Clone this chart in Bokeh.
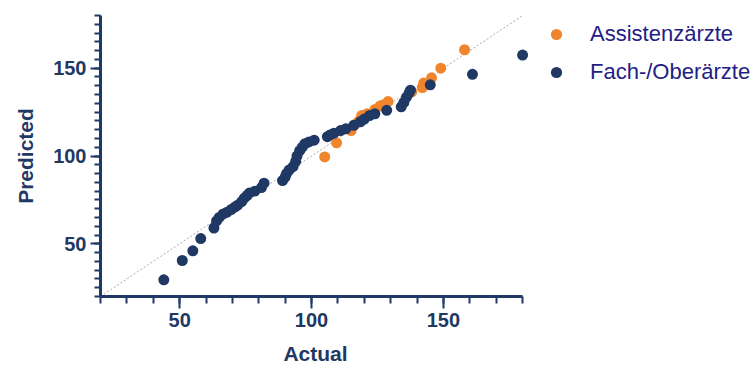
from bokeh.plotting import figure
from bokeh.layouts import row
from bokeh.models import FixedTicker, Legend, LegendItem, Range1d, ColumnDataSource
from bokeh.embed import file_html
from bokeh.resources import INLINE

# Data
navy_x = [44, 51, 55, 58, 63, 64, 65, 66.5, 68, 69.5, 71, 72, 73.5, 74.5, 75.5, 76.5, 78.5, 81, 82,
          89, 90, 90.5, 91.5, 93, 94, 94.5, 95.5, 96.5, 97.5, 99, 101, 106, 107, 108.5, 111, 113,
          116, 118.5, 120, 122, 124, 128.5, 134, 135, 136, 137, 137.5, 145, 161, 180]
navy_y = [29.5, 40.5, 46, 53, 59, 63, 65, 67, 68, 69.5, 71, 72, 74, 76, 77.5, 79, 80, 82, 84.5,
          86, 88, 90, 92, 94, 97, 100, 103, 105, 107, 108, 109, 111, 112, 113, 114.5, 115.5,
          117.5, 119.5, 121, 123, 124, 126, 128, 130.5, 133.5, 136, 137.5, 140.5, 146.5, 157.5]
orange_x = [105, 109.5, 115, 116.5, 118, 119, 121, 124, 126, 127, 129, 138, 142, 142.5, 145.5, 149, 158]
orange_y = [99.5, 107.5, 114.5, 118, 120, 123, 124, 126.5, 128.5, 129, 131, 136.5, 139, 141.5, 144.5, 150, 160.5]
diag = [20, 180]
major_ticks = [50, 100, 150]
x_minor = list(range(20, 181, 10))
y_minor = list(range(20, 181, 5))
labels = ["Assistenzärzte", "Fach-/Oberärzte"]

NAVY = "#1f3864"
ORANGE = "#f0852d"
FONT = "Liberation Sans"

p = figure(width=530, height=369, output_backend="svg", toolbar_location=None,
           x_range=Range1d(20, 183), y_range=Range1d(20, 180),
           min_border_left=100, min_border_right=0, min_border_top=15, min_border_bottom=73)
p.grid.visible = False
p.outline_line_color = None
p.background_fill_color = "white"
p.border_fill_color = "white"

p.line(diag, diag, line_color="#a8a8a8", line_width=1, line_dash="2 2")

src_o = ColumnDataSource(dict(x=orange_x, y=orange_y))
src_n = ColumnDataSource(dict(x=navy_x, y=navy_y))
p.scatter("x", "y", source=src_o, size=11, fill_color=ORANGE, line_color=ORANGE, line_width=0)
p.scatter("x", "y", source=src_n, size=11, fill_color=NAVY, line_color=NAVY, line_width=0)

p.xaxis.ticker = FixedTicker(ticks=major_ticks, minor_ticks=x_minor)
p.yaxis.ticker = FixedTicker(ticks=major_ticks, minor_ticks=y_minor)
p.xaxis.bounds = (20, 180)

for ax in (p.xaxis[0], p.yaxis[0]):
    ax.axis_line_color = NAVY
    ax.axis_line_width = 3
    ax.major_tick_line_color = NAVY
    ax.minor_tick_line_color = NAVY
    ax.major_tick_line_width = 2
    ax.minor_tick_line_width = 2
    ax.major_tick_in = 0
    ax.minor_tick_in = 0
    ax.major_label_text_font = FONT
    ax.major_label_text_font_style = "bold"
    ax.major_label_text_font_size = "20px"
    ax.major_label_text_color = NAVY
    ax.axis_label_text_font = FONT
    ax.axis_label_text_font_style = "bold"
    ax.axis_label_text_font_size = "21px"
    ax.axis_label_text_color = NAVY

p.xaxis.major_tick_out = 12
p.xaxis.minor_tick_out = 7
p.yaxis.major_tick_out = 10
p.yaxis.minor_tick_out = 6
p.xaxis.major_label_standoff = 4
p.yaxis.major_label_standoff = 4
p.xaxis.axis_label = "Actual"
p.yaxis.axis_label = "Predicted"
p.xaxis.axis_label_standoff = 12
p.yaxis.axis_label_standoff = 13

# legend panel
q = figure(width=224, height=369, output_backend="svg", toolbar_location=None,
           x_axis_type=None, y_axis_type=None,
           x_range=Range1d(0, 1), y_range=Range1d(0, 1),
           min_border_left=0, min_border_right=0, min_border_top=0, min_border_bottom=0)
q.grid.visible = False
q.outline_line_color = None
q.background_fill_color = "white"
q.border_fill_color = "white"
lo = q.scatter(x=[-5], y=[-5], size=11, fill_color=ORANGE, line_color=ORANGE, line_width=0)
ln = q.scatter(x=[-5], y=[-5], size=11, fill_color=NAVY, line_color=NAVY, line_width=0)

legend = Legend(items=[LegendItem(label=labels[0], renderers=[lo]),
                       LegendItem(label=labels[1], renderers=[ln])],
                location="top_left", orientation="vertical",
                padding=0, margin=5, spacing=10, glyph_width=42, glyph_height=28,
                label_height=28, label_standoff=13,
                label_text_font=FONT, label_text_font_size="22px", label_text_color="#1e2183",
                border_line_color=None, background_fill_alpha=0)
q.add_layout(legend)

layout = row(p, q, spacing=0)
open("out.html", "w").write(file_html(layout, INLINE))
